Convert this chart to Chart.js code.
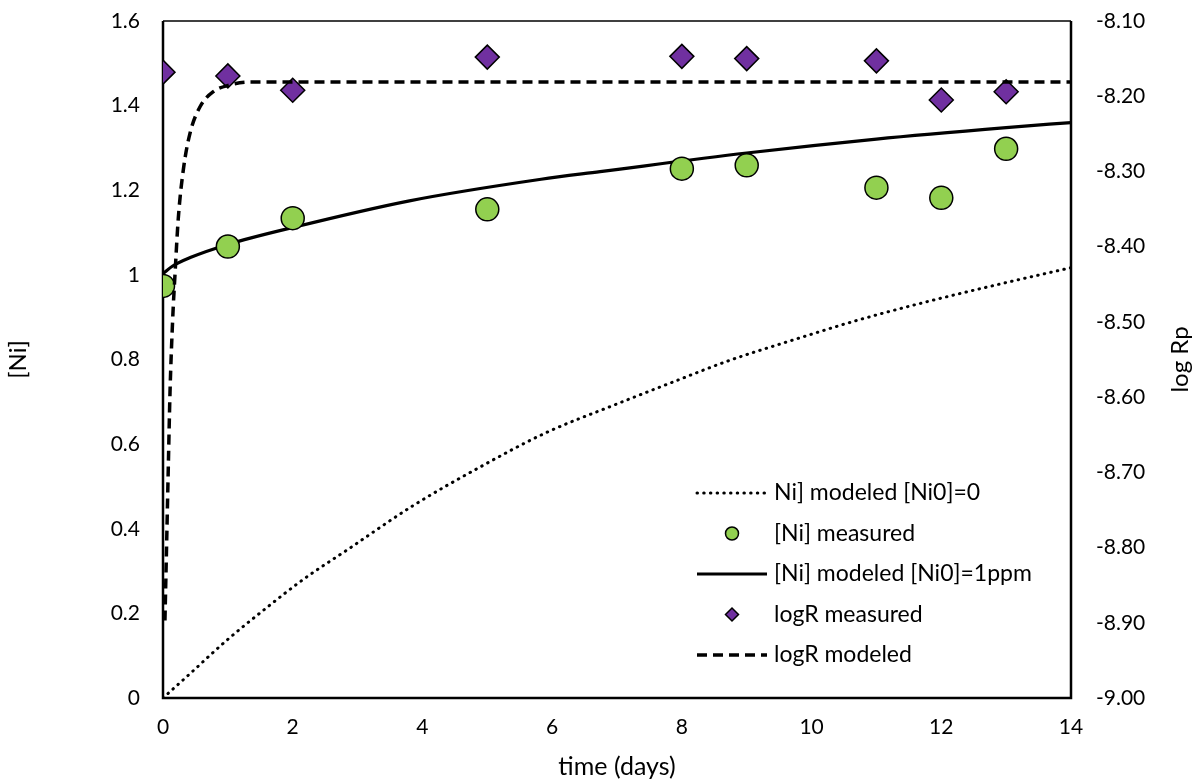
<!DOCTYPE html>
<html>
<head>
    <title>[Ni] and log Rp over time</title>
    <script src="https://cdn.jsdelivr.net/npm/chart.js"></script>
    <style>
        body { margin: 0; background: #fff; }
        #wrap { width: 1193px; height: 783px; position: relative; }
    </style>
</head>
<body>
    <div id="wrap">
        <canvas id="myChart"></canvas>
    </div>

    <script>
        // measured points
        const tMeasured = [0, 1, 2, 5, 8, 9, 11, 12, 13];
        const niMeasured = [0.974, 1.067, 1.134, 1.155, 1.251, 1.259, 1.206, 1.182, 1.298];
        const logRMeasured = [-8.168, -8.173, -8.192, -8.148, -8.147, -8.150, -8.153, -8.205, -8.194];

        // model curves
        const tModel0 = [0, 0.42, 0.98, 1.57, 2.17, 2.84, 3.86, 4.89, 5.92, 6.95, 7.9, 8.7, 9.73, 10.76, 11.79, 12.81, 14];
        const niModel0 = [0, 0.058, 0.136, 0.21, 0.281, 0.35, 0.455, 0.546, 0.628, 0.692, 0.749, 0.796, 0.847, 0.895, 0.937, 0.975, 1.017];

        const tModel1 = [0, 0.15, 0.42, 1, 2, 3.8, 5.83, 6.74, 9, 11, 13, 14];
        const niModel1 = [1.003, 1.021, 1.041, 1.072, 1.112, 1.175, 1.226, 1.244, 1.288, 1.321, 1.348, 1.36];

        const tLogRModel = [0.03, 0.057, 0.082, 0.108, 0.15, 0.185, 0.236, 0.313, 0.417, 0.571, 0.776, 1.03, 1.34, 2, 14];
        const logRModel = [-8.897, -8.791, -8.692, -8.594, -8.495, -8.437, -8.362, -8.298, -8.249, -8.214, -8.194, -8.185, -8.181, -8.181, -8.181];

        const legendLabels = ['Ni] modeled [Ni0]=0', '[Ni] measured', '[Ni] modeled [Ni0]=1ppm', 'logR measured', 'logR modeled'];

        const pts = (xs, ys) => xs.map((x, i) => ({x: x, y: ys[i]}));

        Chart.defaults.font.family = 'Lato';
        Chart.defaults.font.size = 21;
        Chart.defaults.color = '#000';

        // tick padding would otherwise push the plot area in
        function noOverflow(s) {
            s.paddingTop = 0; s.paddingBottom = 0;
            s.paddingLeft = 0; s.paddingRight = 0;
        }

        // box round the plot area
        const frame = {
            id: 'frame',
            beforeDatasetsDraw(chart) {
                const {ctx, chartArea: a} = chart;
                ctx.save();
                ctx.strokeStyle = '#000';
                ctx.lineWidth = 1.5;
                ctx.beginPath();
                ctx.moveTo(a.left, a.top); ctx.lineTo(a.right, a.top);
                ctx.stroke();
                ctx.lineWidth = 2.5;
                ctx.beginPath();
                ctx.moveTo(a.left, a.top); ctx.lineTo(a.left, a.bottom);
                ctx.lineTo(a.right, a.bottom); ctx.lineTo(a.right, a.top);
                ctx.stroke();
                ctx.restore();
            }
        };

        // right title reads bottom to top, and the legend sits inside the plot
        const extras = {
            id: 'extras',
            afterDraw(chart) {
                const ctx = chart.ctx;
                const a = chart.chartArea;
                ctx.save();
                ctx.fillStyle = '#000';
                ctx.font = '24px Lato';
                ctx.textAlign = 'center';
                ctx.textBaseline = 'middle';
                ctx.translate(1180, (a.top + a.bottom) / 2);
                ctx.rotate(-Math.PI / 2);
                ctx.fillText('log Rp', 0, 0);
                ctx.restore();

                const x0 = 697, x1 = 767, tx = 774;
                chart.data.datasets.forEach((ds, i) => {
                    const y = 493 + i * 40.5;
                    ctx.save();
                    if (ds.showLine) {
                        ctx.strokeStyle = ds.borderColor;
                        ctx.lineWidth = ds.borderWidth;
                        ctx.lineCap = ds.borderCapStyle || 'butt';
                        ctx.setLineDash(ds.borderDash || []);
                        ctx.beginPath();
                        ctx.moveTo(x0, y); ctx.lineTo(x1, y);
                        ctx.stroke();
                    } else {
                        ctx.fillStyle = ds.backgroundColor;
                        ctx.strokeStyle = ds.borderColor;
                        ctx.lineWidth = 1.5;
                        Chart.helpers.drawPoint(ctx, {pointStyle: ds.pointStyle, radius: 6.5, borderWidth: 1.5}, (x0 + x1) / 2, y);
                    }
                    ctx.restore();
                    ctx.save();
                    ctx.fillStyle = '#000';
                    ctx.font = '23px Lato';
                    ctx.textBaseline = 'middle';
                    ctx.fillText(ds.label, tx, y);
                    ctx.restore();
                });
            }
        };

        new Chart(document.getElementById('myChart').getContext('2d'), {
            type: 'scatter',
            data: {
                datasets: [
                    {
                        label: legendLabels[0],
                        data: pts(tModel0, niModel0),
                        yAxisID: 'y',
                        showLine: true,
                        borderColor: '#000',
                        borderWidth: 3,
                        borderDash: [0.5, 6.2],
                        borderCapStyle: 'round',
                        cubicInterpolationMode: 'monotone',
                        pointRadius: 0,
                        order: 4
                    },
                    {
                        label: legendLabels[1],
                        data: pts(tMeasured, niMeasured),
                        yAxisID: 'y',
                        pointStyle: 'circle',
                        pointRadius: 11.5,
                        pointBorderWidth: 1.5,
                        borderColor: '#000',
                        backgroundColor: '#92D050',
                        order: 2
                    },
                    {
                        label: legendLabels[2],
                        data: pts(tModel1, niModel1),
                        yAxisID: 'y',
                        showLine: true,
                        borderColor: '#000',
                        borderWidth: 3.2,
                        cubicInterpolationMode: 'monotone',
                        pointRadius: 0,
                        order: 3
                    },
                    {
                        label: legendLabels[3],
                        data: pts(tMeasured, logRMeasured),
                        yAxisID: 'y1',
                        pointStyle: 'rectRot',
                        pointRadius: 12,
                        pointBorderWidth: 1.5,
                        borderColor: '#000',
                        backgroundColor: '#7030A0',
                        order: 1
                    },
                    {
                        label: legendLabels[4],
                        data: pts(tLogRModel, logRModel),
                        yAxisID: 'y1',
                        showLine: true,
                        borderColor: '#000',
                        borderWidth: 3.5,
                        borderDash: [10, 6],
                        cubicInterpolationMode: 'monotone',
                        pointRadius: 0,
                        order: 0
                    }
                ]
            },
            options: {
                responsive: true,
                maintainAspectRatio: false,
                animation: false,
                layout: { padding: { top: 21, left: 0, right: 0, bottom: 0 } },
                plugins: {
                    legend: { display: false },
                    tooltip: { enabled: false }
                },
                scales: {
                    x: {
                        type: 'linear',
                        min: 0,
                        max: 14,
                        grid: { display: false, drawTicks: false },
                        border: { display: false },
                        ticks: { stepSize: 2, padding: 17 },
                        title: { display: true, text: 'time (days)', font: { size: 25 }, padding: { top: 0, bottom: 1 } },
                        afterFit: s => { s.height = 85; noOverflow(s); }
                    },
                    y: {
                        position: 'left',
                        min: 0,
                        max: 1.6,
                        grid: { display: false, drawTicks: false },
                        border: { display: false },
                        ticks: { stepSize: 0.2, padding: 23, callback: v => String(+v.toFixed(1)) },
                        title: { display: true, text: '[Ni]', font: { size: 24 }, padding: { top: 4, bottom: 0 } },
                        afterFit: s => { s.width = 163; noOverflow(s); }
                    },
                    y1: {
                        position: 'right',
                        min: -9,
                        max: -8.1,
                        grid: { display: false, drawTicks: false },
                        border: { display: false },
                        ticks: { stepSize: 0.1, padding: 25, callback: v => v.toFixed(2) },
                        afterFit: s => { s.width = 122; noOverflow(s); }
                    }
                }
            },
            plugins: [frame, extras]
        });
    </script>
</body>
</html>
